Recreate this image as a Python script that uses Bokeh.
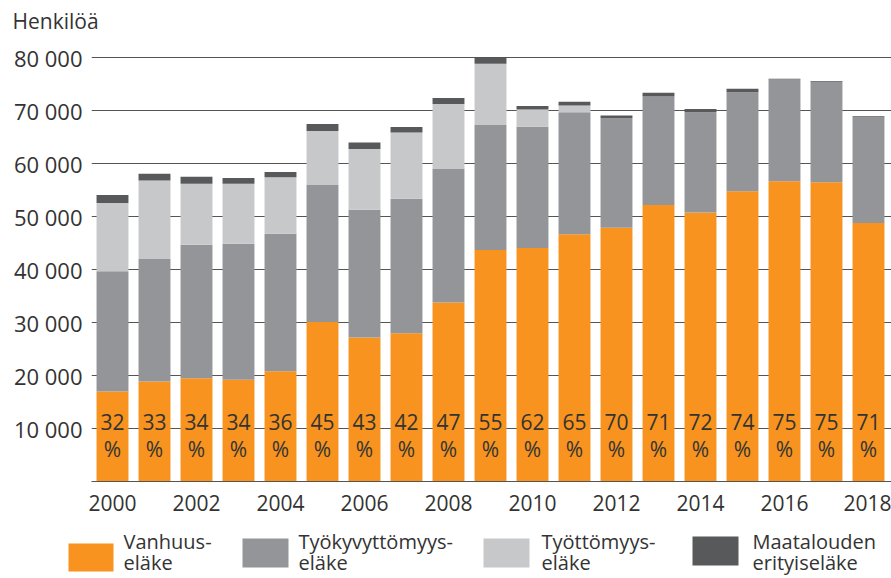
from bokeh.plotting import figure
from bokeh.models import ColumnDataSource, FixedTicker, Range1d
from bokeh.core.properties import value
from bokeh.embed import file_html
from bokeh.resources import INLINE

years = list(range(2000, 2019))
vanhuus = [17000, 18900, 19500, 19200, 20800, 30100, 27200, 28000, 33800, 43700,
           44100, 46700, 47900, 52200, 50800, 54800, 56700, 56500, 48800]
tyokyvyttomyys = [22700, 23100, 25200, 25700, 26000, 25900, 24100, 25400, 25300, 23600,
                  22900, 23000, 20700, 20500, 18900, 18700, 19200, 19000, 20000]
tyottomyys = [12900, 14850, 11500, 11300, 10640, 10200, 11500, 12500, 12200, 11570,
              3250, 1280, 0, 0, 0, 0, 0, 0, 0]
maatalous = [1500, 1250, 1350, 1100, 1000, 1300, 1200, 1050, 1130, 1130,
             650, 700, 510, 700, 650, 640, 150, 100, 150]
osuus = [32, 33, 34, 34, 36, 45, 43, 42, 47, 55, 62, 65, 70, 71, 72, 74, 75, 75, 71]

y_ticks = [10000, 20000, 30000, 40000, 50000, 60000, 70000, 80000]
y_tick_labels = ["10 000", "20 000", "30 000", "40 000", "50 000", "60 000", "70 000", "80 000"]
x_ticks = [2000, 2002, 2004, 2006, 2008, 2010, 2012, 2014, 2016, 2018]

series = ["Vanhuus", "Tyokyvyttomyys", "Tyottomyys", "Maatalous"]
legend_labels = [("Vanhuus-", "eläke"), ("Työkyvyttömyys-", "eläke"),
                 ("Työttömyys-", "eläke"), ("Maatalouden", "erityiseläke")]
colors = ["#F7931E", "#939598", "#C7C8CA", "#58595B"]
y_title = "Henkilöä"

FONT = "Open Sans"
TEXT_COLOR = "#333333"


def strip(height):
    f = figure(width=891, height=height, output_backend="svg", toolbar_location=None,
               x_range=Range1d(0, 891), y_range=Range1d(height, 0),
               min_border=0, min_border_left=0, min_border_right=0,
               min_border_top=0, min_border_bottom=0)
    f.axis.visible = False
    f.grid.visible = False
    f.outline_line_color = None
    return f


# title strip
top = strip(34)
top.text(x=[12], y=[20.6], text=[y_title], text_font=value(FONT), text_font_size="21px",
         text_color=TEXT_COLOR, text_baseline="middle")

# main chart
src = ColumnDataSource(dict(year=years, Vanhuus=vanhuus, Tyokyvyttomyys=tyokyvyttomyys,
                            Tyottomyys=tyottomyys, Maatalous=maatalous,
                            label=[f"{v}" for v in osuus]))

p = figure(width=891, height=486, output_backend="svg", toolbar_location=None,
           x_range=Range1d(1999.5, 2018.548), y_range=Range1d(0, 84400),
           min_border_left=91, min_border_right=0, min_border_top=0, min_border_bottom=39)
p.outline_line_color = None

p.vbar_stack(series, x="year", width=0.76, color=colors, line_color=None, source=src)

p.text(x="year", y=10000, text="label", source=src, text_align="center",
       text_baseline="middle", y_offset=-7, text_font=value(FONT),
       text_font_size="21px", text_color=TEXT_COLOR)
p.text(x="year", y=10000, text=value("%"), source=src, text_align="center",
       text_baseline="middle", y_offset=20, text_font=value(FONT),
       text_font_size="21px", text_color=TEXT_COLOR)

p.xaxis.ticker = FixedTicker(ticks=x_ticks)
p.xaxis.major_tick_line_color = None
p.xaxis.minor_tick_line_color = None
p.xaxis.axis_line_color = "#555555"
p.xaxis.axis_line_width = 1.2
p.xaxis.major_label_text_font = FONT
p.xaxis.major_label_text_font_size = "21px"
p.xaxis.major_label_text_color = TEXT_COLOR
p.xaxis.major_label_standoff = 7

p.yaxis.ticker = FixedTicker(ticks=y_ticks)
p.yaxis.major_label_overrides = {t: l for t, l in zip(y_ticks, y_tick_labels)}
p.yaxis.major_tick_line_color = None
p.yaxis.minor_tick_line_color = None
p.yaxis.major_tick_out = 0
p.yaxis.major_tick_in = 0
p.yaxis.minor_tick_out = 0
p.yaxis.axis_line_color = None
p.yaxis.major_label_text_font = FONT
p.yaxis.major_label_text_font_size = "22px"
p.yaxis.major_label_text_color = TEXT_COLOR
p.yaxis.major_label_standoff = 9

p.xgrid.grid_line_color = None
p.ygrid.ticker = FixedTicker(ticks=y_ticks)
p.ygrid.grid_line_color = "#555555"
p.ygrid.grid_line_width = 1

# legend strip
leg = strip(58)
sw_left = [68, 242, 483, 692]
sw_right = [113, 288, 529, 738]
sw_top = [23, 18, 18, 16]
sw_bottom = [51, 47, 47, 45]
tx = [123, 298, 541, 752]
leg.quad(left=sw_left, right=sw_right, top=sw_top, bottom=sw_bottom, color=colors, line_color=None)
leg.text(x=tx, y=[20.5] * 4, text=[a for a, b in legend_labels], text_font=value(FONT),
         text_font_size="20px", text_color=TEXT_COLOR, text_baseline="middle")
leg.text(x=tx, y=[42] * 4, text=[b for a, b in legend_labels], text_font=value(FONT),
         text_font_size="20px", text_color=TEXT_COLOR, text_baseline="middle")

open("out.html", "w").write(file_html([top, p, leg], INLINE))
